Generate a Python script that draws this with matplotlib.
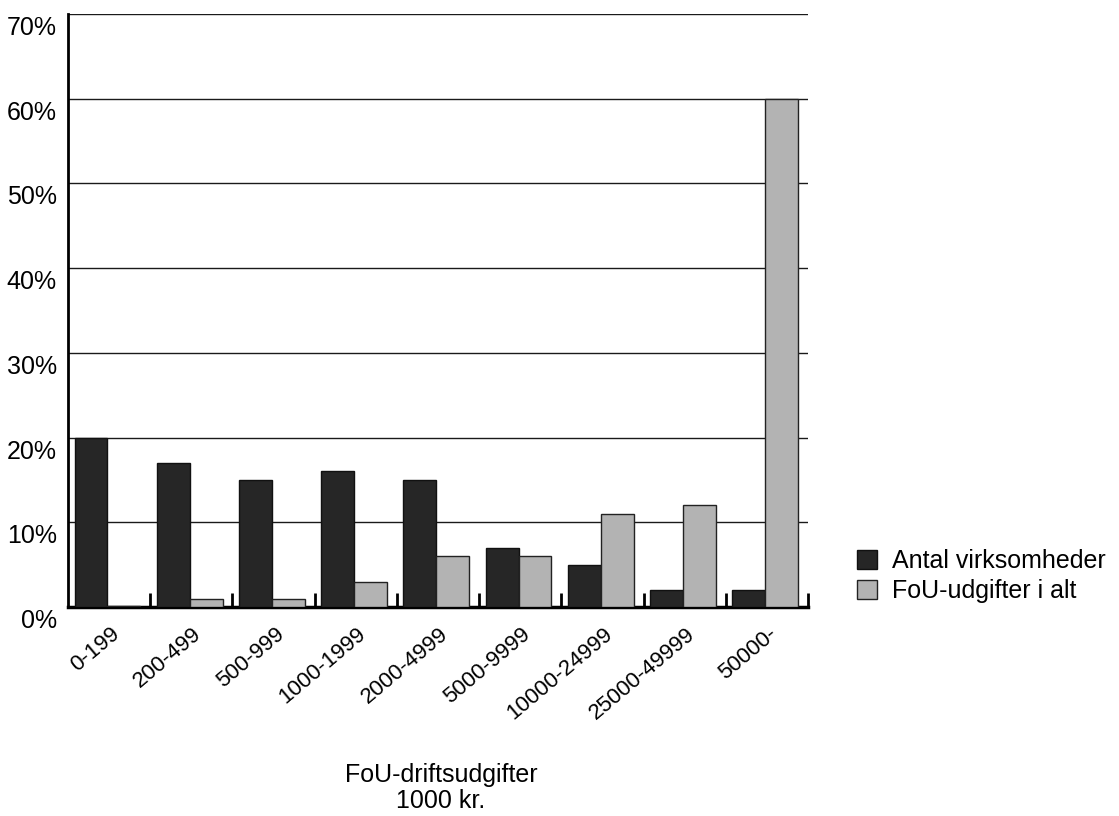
import numpy as np
import matplotlib
matplotlib.use("Agg")
import matplotlib.pyplot as plt
from matplotlib.ticker import FixedLocator, FuncFormatter
import matplotlib.transforms as mtransforms

plt.rcParams['font.family'] = ['Liberation Sans', 'DejaVu Sans']

# data (percent)
categories = ['0-199', '200-499', '500-999', '1000-1999', '2000-4999',
              '5000-9999', '10000-24999', '25000-49999', '50000-']
antal = [20, 17, 15, 16, 15, 7, 5, 2, 2]
udgifter = [0.15, 1, 1, 3, 6, 6, 11, 12, 60]
series_names = ['Antal virksomheder', 'FoU-udgifter i alt']

fs = 18

fig = plt.figure(figsize=(11.19, 8.16), dpi=100)
ax = fig.add_axes([68 / 1119, 1 - 607 / 816, 740 / 1119, 593 / 816])

x = np.arange(len(categories))
w = 0.4
ax.bar(x - w / 2 - 0.02, antal, w, color='#262626', edgecolor='#111111',
       linewidth=1, label=series_names[0], zorder=3)
ax.bar(x + w / 2 - 0.02, udgifter, w, color='#b3b3b3', edgecolor='#222222',
       linewidth=1, label=series_names[1], zorder=3)

ax.set_xlim(-0.5, len(categories) - 0.5)
ax.set_ylim(0, 70)

# y axis
ax.yaxis.set_major_locator(FixedLocator(range(0, 71, 10)))
ax.yaxis.set_major_formatter(FuncFormatter(lambda v, p: '%d%%' % v))
ax.tick_params(axis='y', length=0, pad=8, labelsize=fs)
yoff = mtransforms.ScaledTranslation(0, -2 / 100, fig.dpi_scale_trans)
for lab in ax.get_yticklabels():
    lab.set_verticalalignment('top')
    lab.set_transform(lab.get_transform() + yoff)
ax.yaxis.grid(True, color='#1a1a1a', linewidth=1)
ax.set_axisbelow(True)

# x axis: labels at centres, separator ticks between groups
ax.set_xticks(x)
ax.set_xticklabels(categories, rotation=40, ha='right', va='top',
                   rotation_mode='anchor', fontsize=16)
ax.tick_params(axis='x', which='major', length=0, pad=12)
offset = mtransforms.ScaledTranslation(1 / 100, 0, fig.dpi_scale_trans)
for lab in ax.get_xticklabels():
    lab.set_transform(lab.get_transform() + offset)
ax.set_xticks(np.arange(0.5, len(categories), 1.0), minor=True)
ax.tick_params(axis='x', which='minor', direction='in', length=10, width=2,
               color='black')

for s in ['top', 'right']:
    ax.spines[s].set_visible(False)
ax.spines['left'].set_linewidth(2)
ax.spines['bottom'].set_linewidth(2.5)

fig.legend(loc='upper left', bbox_to_anchor=(847 / 1119, 1 - 539 / 816),
           frameon=False, fontsize=fs, handlelength=0.8, handleheight=0.8,
           handletextpad=0.6, labelspacing=0.25, borderaxespad=0)

fig.text(441 / 1119, 1 - 788 / 816, 'FoU-driftsudgifter\n1000 kr.',
         ha='center', va='center', fontsize=fs, linespacing=1.15)

fig.savefig('out.png', dpi=100)
